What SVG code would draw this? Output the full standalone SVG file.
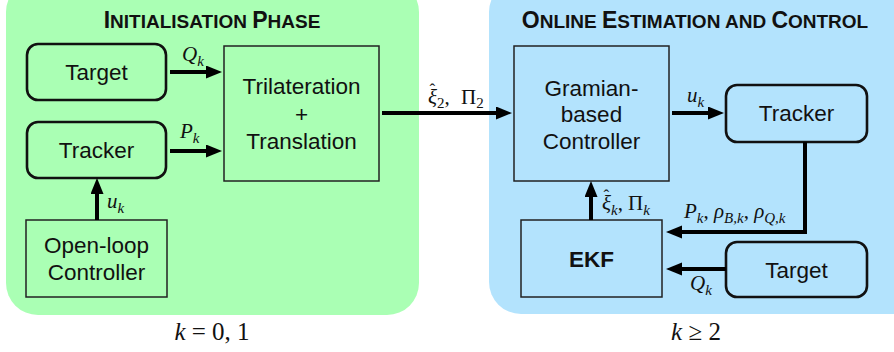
<svg xmlns="http://www.w3.org/2000/svg" width="894" height="352" viewBox="0 0 894 352">
<style>
.title{font-family:"Liberation Sans",Arial,sans-serif;font-weight:bold;fill:#111;text-anchor:middle;}
.big{font-size:23px;}
.sc{font-size:19px;}
.lbl{font-family:"Liberation Sans",Arial,sans-serif;font-size:22.5px;fill:#111;text-anchor:middle;}
.math{font-family:"Liberation Serif","Times New Roman",serif;font-style:italic;font-size:21px;fill:#111;}
.cap{font-family:"Liberation Serif","Times New Roman",serif;font-style:italic;font-size:25px;fill:#111;text-anchor:middle;}
.sub{font-size:15px;}
.hat{font-style:normal;font-size:17px;}
.up{font-style:normal;}
.rbox{fill:none;stroke:#111;stroke-width:2.6;}
.sbox{fill:none;stroke:#222;stroke-width:1.5;}
.conn{fill:none;stroke:#000;stroke-width:4;}
</style>
<defs>
<marker id="ah" markerUnits="userSpaceOnUse" markerWidth="16" markerHeight="14" refX="10" refY="6.5" orient="auto">
<path d="M0,0 L16,6.5 L0,13 z" fill="#000"/>
</marker>
</defs>
<g id="panel-init">
<rect x="6" y="-20" width="413" height="335" rx="32" fill="#aaffb4"/>
<text class="title" x="212" y="28"><tspan class="big">I</tspan><tspan class="sc">NITIALISATION </tspan><tspan class="big">P</tspan><tspan class="sc">HASE</tspan></text>
</g>
<g id="panel-online">
<rect x="489" y="-20" width="440" height="334" rx="32" fill="#b3e3fd"/>
<text class="title" x="695" y="28"><tspan class="big">O</tspan><tspan class="sc">NLINE </tspan><tspan class="big">E</tspan><tspan class="sc">STIMATION AND </tspan><tspan class="big">C</tspan><tspan class="sc">ONTROL</tspan></text>
</g>
<g id="target-init">
<rect class="rbox" x="27" y="44" width="139" height="56" rx="11"/>
<text class="lbl" x="96.5" y="80">Target</text>
</g>
<g id="tracker-init">
<rect class="rbox" x="27" y="122" width="139" height="56" rx="11"/>
<text class="lbl" x="96.5" y="158">Tracker</text>
</g>
<g id="openloop">
<rect class="sbox" x="26" y="220" width="141" height="77"/>
<text class="lbl" x="96.5" y="253">Open-loop</text>
<text class="lbl" x="96.5" y="280">Controller</text>
</g>
<g id="trilateration">
<rect class="sbox" x="224" y="46" width="155" height="135"/>
<text class="lbl" x="301.5" y="94">Trilateration</text>
<text class="lbl" x="301.5" y="122">+</text>
<text class="lbl" x="301.5" y="149">Translation</text>
</g>
<g id="gramian">
<rect class="sbox" x="514" y="46" width="155" height="135"/>
<text class="lbl" x="591.5" y="96">Gramian-</text>
<text class="lbl" x="591.5" y="122">based</text>
<text class="lbl" x="591.5" y="149">Controller</text>
</g>
<g id="tracker-online">
<rect class="rbox" x="726" y="85" width="141" height="57" rx="11"/>
<text class="lbl" x="796.5" y="121">Tracker</text>
</g>
<g id="ekf">
<rect class="sbox" x="521" y="220" width="141" height="77"/>
<text class="lbl" x="591.5" y="267" font-weight="bold">EKF</text>
</g>
<g id="target-online">
<rect class="rbox" x="726" y="242" width="141" height="55" rx="11"/>
<text class="lbl" x="796.5" y="278">Target</text>
</g>
<g id="connectors">
<path class="conn" d="M170,72 H216" marker-end="url(#ah)"/>
<path class="conn" d="M170,151 H216" marker-end="url(#ah)"/>
<path class="conn" d="M97,220 V184" marker-end="url(#ah)"/>
<path class="conn" d="M382,113 H506" marker-end="url(#ah)"/>
<path class="conn" d="M672,113 H718" marker-end="url(#ah)"/>
<path class="conn" d="M805,142 V232 H672" marker-end="url(#ah)"/>
<path class="conn" d="M726,269 H672" marker-end="url(#ah)"/>
<path class="conn" d="M591,220 V187" marker-end="url(#ah)"/>
<text class="math" x="182" y="61">Q<tspan class="sub" dy="5">k</tspan></text>
<text class="math" x="180" y="138">P<tspan class="sub" dy="5">k</tspan></text>
<text class="math" x="107" y="208">u<tspan class="sub" dy="5">k</tspan></text>
<text class="math" x="428" y="104">ξ<tspan class="hat" x="429.5" dy="-9">ˆ</tspan><tspan class="sub up" x="437" dy="13">2</tspan><tspan class="up" dy="-4">,</tspan><tspan class="up" x="461">Π</tspan><tspan class="sub up" dy="4">2</tspan></text>
<text class="math" x="687" y="102">u<tspan class="sub" dy="5">k</tspan></text>
<text class="math" x="602" y="210">ξ<tspan class="hat" x="603.5" dy="-9">ˆ</tspan><tspan class="sub" x="611" dy="14">k</tspan><tspan class="up" dy="-5">,</tspan><tspan class="up" x="628">Π</tspan><tspan class="sub" dy="5">k</tspan></text>
<text class="math" x="684" y="218">P<tspan class="sub" dy="5">k</tspan><tspan class="up" dy="-5">, </tspan>ρ<tspan class="sub" dy="5">B,k</tspan><tspan class="up" dy="-5">, </tspan>ρ<tspan class="sub" dy="5">Q,k</tspan></text>
<text class="math" x="690" y="290">Q<tspan class="sub" dy="5">k</tspan></text>
</g>
<g id="captions">
<text class="cap" x="212" y="340">k<tspan class="up"> = 0, 1</tspan></text>
<text class="cap" x="696" y="340">k<tspan class="up"> ≥ 2</tspan></text>
</g>
</svg>
